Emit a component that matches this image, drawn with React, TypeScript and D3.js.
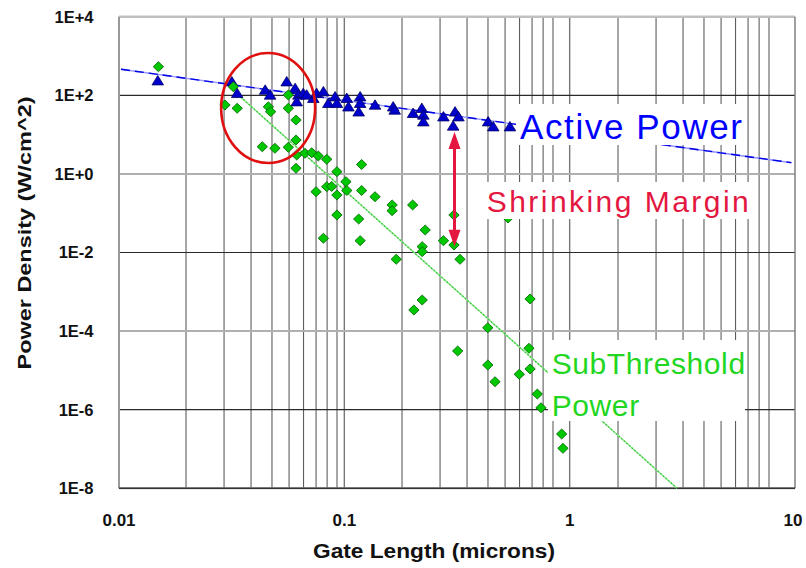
import React from "react";
import * as d3 from "d3";

// ---- data ----
const activeLength = [0.0148, 0.0326, 0.0345, 0.0465, 0.049, 0.0585, 0.064, 0.0663, 0.0698, 0.0651, 0.0724, 0.0777, 0.0805, 0.0865, 0.0912, 0.098, 0.0999, 0.111, 0.113, 0.128, 0.128, 0.126, 0.15, 0.182, 0.185, 0.225, 0.247, 0.251, 0.251, 0.311, 0.352, 0.365, 0.345, 0.501, 0.529, 0.632];
const activeDensity = [235, 222, 112, 136, 102, 222, 150, 102, 112, 68.8, 102, 84, 112, 124, 62.5, 92, 62.5, 84, 51, 92, 62.5, 38, 56.6, 51, 42.3, 34.8, 46.7, 31.6, 21.3, 28.5, 38, 28.5, 16.6, 21.3, 15.9, 15.9];

const subLength = [0.0149, 0.0331, 0.0303, 0.0345, 0.0481, 0.0493, 0.0595, 0.0595, 0.0646, 0.0646, 0.0451, 0.0516, 0.0595, 0.0651, 0.0711, 0.0764, 0.0819, 0.0896, 0.0646, 0.0999, 0.13, 0.11, 0.08, 0.0896, 0.0945, 0.111, 0.13, 0.0999, 0.15, 0.18, 0.18, 0.224, 0.0999, 0.126, 0.0865, 0.128, 0.256, 0.348, 0.311, 0.348, 0.248, 0.248, 0.188, 0.371, 0.248, 0.227, 0.619, 0.783, 0.499, 0.362, 0.774, 0.499, 0.539, 0.698, 0.783, 0.846, 0.88, 1.097, 1.112];
const subDensity = [534, 166, 56.6, 46.7, 51, 38.3, 102, 46.7, 23.5, 7.3, 4.92, 4.48, 4.75, 3.03, 3.34, 3.46, 2.85, 2.35, 1.39, 1.14, 1.73, 0.634, 0.352, 0.472, 0.48, 0.378, 0.378, 0.29, 0.263, 0.162, 0.116, 0.162, 0.09, 0.0711, 0.023, 0.02, 0.0374, 0.09, 0.02, 0.0155, 0.0141, 0.0105, 0.00671, 0.00671, 0.000618, 0.000344, 0.0755, 0.000656, 0.000122, 3.12e-5, 3.65e-5, 1.37e-5, 5.15e-6, 7.96e-6, 1.09e-5, 2.5e-6, 1.12e-6, 2.41e-7, 1.04e-7];

const activeTrendLength = [0.01, 12.7];
const activeTrendDensity = [460, 1.93];
const subTrendLength = [0.033, 3.75];
const subTrendDensity = [135, 1e-8];

const marginArrowLength = 0.35;
const marginArrowDensity = [11.6, 0.0141];
const circleCenter = [0.048, 47.5];

const xTickValues = [0.01, 0.1, 1, 10];
const xTickLabels = ["0.01", "0.1", "1", "10"];
const yTickValues = [1e4, 1e2, 1, 1e-2, 1e-4, 1e-6, 1e-8];
const yTickLabels = ["1E+4", "1E+2", "1E+0", "1E-2", "1E-4", "1E-6", "1E-8"];

const W = 806;
const H = 568;
const LEFT = 119;
const RIGHT = 795;
const TOP = 16.7;
const BOTTOM = 488.3;
const FONT = "'Liberation Sans', Arial, Helvetica, sans-serif";

export default function App() {
  // plot scale (data, fine grid) and the axis-label scale
  const x = d3.scaleLog().domain([0.01, 10]).range([121, 769]);
  const xLab = d3.scaleLog().domain([0.01, 10]).range([LEFT, RIGHT]);
  const y = d3.scaleLog().domain([1e-8, 1e4]).range([BOTTOM, TOP]);

  const minorTicks = x.ticks().filter((v) => v > 0.0101);
  const line = d3
    .line<[number, number]>()
    .x((d) => x(d[0]))
    .y((d) => y(d[1]));

  const activeTrend: [number, number][] = activeTrendLength.map((l, i) => [l, activeTrendDensity[i]]);
  const subTrend: [number, number][] = subTrendLength.map((l, i) => [l, subTrendDensity[i]]);

  const tri = "M0,-5.2 L5.8,4.2 L-5.8,4.2 Z";
  const dia = "M0,-5 L5.2,0 L0,5 L-5.2,0 Z";

  const ax = x(marginArrowLength);
  const ay1 = y(marginArrowDensity[0]);
  const ay2 = y(marginArrowDensity[1]);
  const red = "#e3173f";

  return (
    <svg width={W} height={H} style={{ position: "absolute", left: 0, top: 0, background: "#fff" }}>
      <rect x={0} y={0} width={W} height={H} fill="#fff" />
      {/* vertical grid */}
      {minorTicks.map((v, i) => (
        <line key={"vg" + i} x1={x(v)} x2={x(v)} y1={TOP} y2={BOTTOM} stroke="#5e5e5e" strokeWidth={1.1} />
      ))}
      {xTickValues.slice(1, 3).map((v, i) => (
        <line key={"vm" + i} x1={xLab(v)} x2={xLab(v)} y1={TOP} y2={BOTTOM} stroke="#777" strokeWidth={1.4} />
      ))}
      {/* horizontal grid */}
      {yTickValues.map((v, i) => (
        <line
          key={"hg" + i}
          x1={LEFT}
          x2={RIGHT}
          y1={y(v)}
          y2={y(v)}
          stroke={i % 2 === 0 ? "#b0b0b0" : "#2a2a2a"}
          strokeWidth={i % 2 === 0 ? 2 : 1.2}
        />
      ))}
      {/* frame */}
      <line x1={LEFT} x2={RIGHT} y1={TOP} y2={TOP} stroke="#c0c0c0" strokeWidth={2} />
      <line x1={RIGHT} x2={RIGHT} y1={TOP} y2={BOTTOM} stroke="#777" strokeWidth={1.4} />
      <line x1={LEFT} x2={LEFT} y1={TOP} y2={BOTTOM} stroke="#999" strokeWidth={2} />
      <line x1={LEFT} x2={RIGHT} y1={BOTTOM} y2={BOTTOM} stroke="#333" strokeWidth={1.4} />

      {/* trend lines */}
      <path d={line(activeTrend) || ""} fill="none" stroke="#9a9aff" strokeWidth={1.6} />
      <path d={line(activeTrend) || ""} fill="none" stroke="#0000e6" strokeWidth={1.4} strokeDasharray="9,5" />
      <path d={line(subTrend) || ""} fill="none" stroke="#8ee88e" strokeWidth={1.5} />
      <path d={line(subTrend) || ""} fill="none" stroke="#33c033" strokeWidth={1.2} strokeDasharray="1.5,2" />

      {/* points */}
      {activeLength.map((l, i) => (
        <path key={"a" + i} d={tri} transform={`translate(${x(l)},${y(activeDensity[i])})`} fill="#0000cc" stroke="#000066" strokeWidth={0.8} />
      ))}
      {subLength.map((l, i) => (
        <path key={"s" + i} d={dia} transform={`translate(${x(l)},${y(subDensity[i])})`} fill="#00c800" stroke="#006000" strokeWidth={0.8} />
      ))}

      {/* text boxes */}
      <rect x={516} y={104} width={231} height={41} fill="#fff" />
      <rect x={480} y={182} width={275} height={37} fill="#fff" />
      <rect x={548} y={340} width={197} height={81} fill="#fff" />
      <text x={520} y={138.5} fontFamily={FONT} fontSize={35} fill="#0000ff" textLength={222} lengthAdjust="spacing">
        Active Power
      </text>
      <text x={486.7} y={211.7} fontFamily={FONT} fontSize={30} fill={red} textLength={262} lengthAdjust="spacing">
        Shrinking Margin
      </text>
      <text x={551.7} y={374.3} fontFamily={FONT} fontSize={30} fill="#22d622" letterSpacing={0.6}>
        SubThreshold
      </text>
      <text x={551.7} y={415.7} fontFamily={FONT} fontSize={30} fill="#22d622" letterSpacing={0.6}>
        Power
      </text>

      {/* circle */}
      <ellipse cx={x(circleCenter[0])} cy={y(circleCenter[1])} rx={47} ry={55} fill="none" stroke="#e01010" strokeWidth={2.6} />

      {/* arrow */}
      <line x1={ax} x2={ax} y1={ay1 + 14} y2={ay2 - 14} stroke={red} strokeWidth={3} />
      <path d={`M${ax},${ay1} L${ax + 6},${ay1 + 17} L${ax - 6},${ay1 + 17} Z`} fill={red} />
      <path d={`M${ax},${ay2} L${ax + 6},${ay2 - 17} L${ax - 6},${ay2 - 17} Z`} fill={red} />

      {/* axis labels */}
      {yTickValues.map((v, i) => (
        <text key={"yl" + i} x={93.5} y={y(v)} dy="0.36em" textAnchor="end" fontFamily={FONT} fontSize={16.5} fontWeight="bold" fill="#111">
          {yTickLabels[i]}
        </text>
      ))}
      {xTickValues.map((v, i) => (
        <text key={"xl" + i} x={xLab(v) - (i === 3 ? 2 : 0)} y={526} textAnchor="middle" fontFamily={FONT} fontSize={17} fontWeight="bold" fill="#111">
          {xTickLabels[i]}
        </text>
      ))}
      <text x={434} y={558} textAnchor="middle" fontFamily={FONT} fontSize={20} fontWeight="bold" fill="#111" textLength={242} lengthAdjust="spacingAndGlyphs">
        Gate Length (microns)
      </text>
      <text
        transform={`translate(30.5,233) rotate(-90)`}
        textAnchor="middle"
        fontFamily={FONT}
        fontSize={19}
        fontWeight="bold"
        fill="#111"
        textLength={273}
        lengthAdjust="spacingAndGlyphs"
      >
        Power Density (W/cm^2)
      </text>
    </svg>
  );
}
